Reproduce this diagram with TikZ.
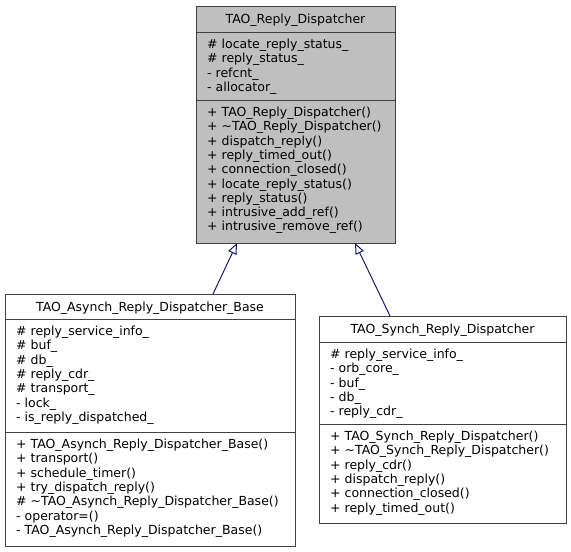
\documentclass[tikz,border=0pt]{standalone}
\usepackage{fontspec}
\setmainfont{DejaVu Sans}
\usetikzlibrary{arrows.meta}
\definecolor{edgeblue}{HTML}{191970}
\definecolor{boxgray}{HTML}{BFBFBF}
\definecolor{boxline}{HTML}{404040}
\tikzset{
	box/.style={draw=boxline, line width=1pt},
	classname/.style={anchor=base, inner sep=0pt, font=\fontsize{12.5}{14.3}\selectfont},
	member/.style={anchor=base west, inner sep=0pt, font=\fontsize{12.5}{14.3}\selectfont},
	inherit/.style={draw=edgeblue, line width=1pt, -{Triangle[length=11pt, width=9pt, fill=white]}},
}
\begin{document}
\begin{tikzpicture}[x=1pt, y=-1pt]
	\useasboundingbox (0,0) rectangle (571,552);

	\draw[box, fill=boxgray] (196,6) rectangle (395,243);
	\draw[box] (196,32) -- (395,32);
	\draw[box] (196,100) -- (395,100);
	\node[classname] (base-name) at (295.5,23.5) {TAO\_Reply\_Dispatcher};
	\foreach \txt [count=\i from 0] in {\# locate\_reply\_status\_, \# reply\_status\_, - refcnt\_, - allocator\_}
	{
		\node[member] (base-a\i) at (207,{48.5+14.3*\i}) {\txt};
	}
	\foreach \txt [count=\i from 0] in {+ TAO\_Reply\_Dispatcher(), + \textasciitilde TAO\_Reply\_Dispatcher(), + dispatch\_reply(), + reply\_timed\_out(), + connection\_closed(), + locate\_reply\_status(), + reply\_status(), + intrusive\_add\_ref(), + intrusive\_remove\_ref()}
	{
		\node[member] (base-m\i) at (207,{116.5+14.3*\i}) {\txt};
	}

	\draw[box, fill=white] (5,294) rectangle (295,546);
	\draw[box] (5,319) -- (295,319);
	\draw[box] (5,432) -- (295,432);
	\node[classname] (asynch-name) at (150,311) {TAO\_Asynch\_Reply\_Dispatcher\_Base};
	\foreach \txt [count=\i from 0] in {\# reply\_service\_info\_, \# buf\_, \# db\_, \# reply\_cdr\_, \# transport\_, - lock\_, - is\_reply\_dispatched\_}
	{
		\node[member] (asynch-a\i) at (16,{335.5+14.3*\i}) {\txt};
	}
	\foreach \txt [count=\i from 0] in {+ TAO\_Asynch\_Reply\_Dispatcher\_Base(), + transport(), + schedule\_timer(), + try\_dispatch\_reply(), \# \textasciitilde TAO\_Asynch\_Reply\_Dispatcher\_Base(), - operator=(), - TAO\_Asynch\_Reply\_Dispatcher\_Base()}
	{
		\node[member] (asynch-m\i) at (16,{448.5+14.3*\i}) {\txt};
	}

	\draw[box, fill=white] (319,316) rectangle (566,523);
	\draw[box] (319,342) -- (566,342);
	\draw[box] (319,424) -- (566,424);
	\node[classname] (synch-name) at (442.5,333.5) {TAO\_Synch\_Reply\_Dispatcher};
	\foreach \txt [count=\i from 0] in {\# reply\_service\_info\_, - orb\_core\_, - buf\_, - db\_, - reply\_cdr\_}
	{
		\node[member] (synch-a\i) at (330,{358.5+14.3*\i}) {\txt};
	}
	\foreach \txt [count=\i from 0] in {+ TAO\_Synch\_Reply\_Dispatcher(), + \textasciitilde TAO\_Synch\_Reply\_Dispatcher(), + reply\_cdr(), + dispatch\_reply(), + connection\_closed(), + reply\_timed\_out()}
	{
		\node[member] (synch-m\i) at (330,{440.5+14.3*\i}) {\txt};
	}

	\coordinate (asynch-up) at (213,294);
	\coordinate (synch-up) at (390,316);
	\coordinate (base-left) at (237,243);
	\coordinate (base-right) at (355,243);
	\draw[inherit] (asynch-up) -- (base-left);
	\draw[inherit] (synch-up) -- (base-right);
\end{tikzpicture}
\end{document}
